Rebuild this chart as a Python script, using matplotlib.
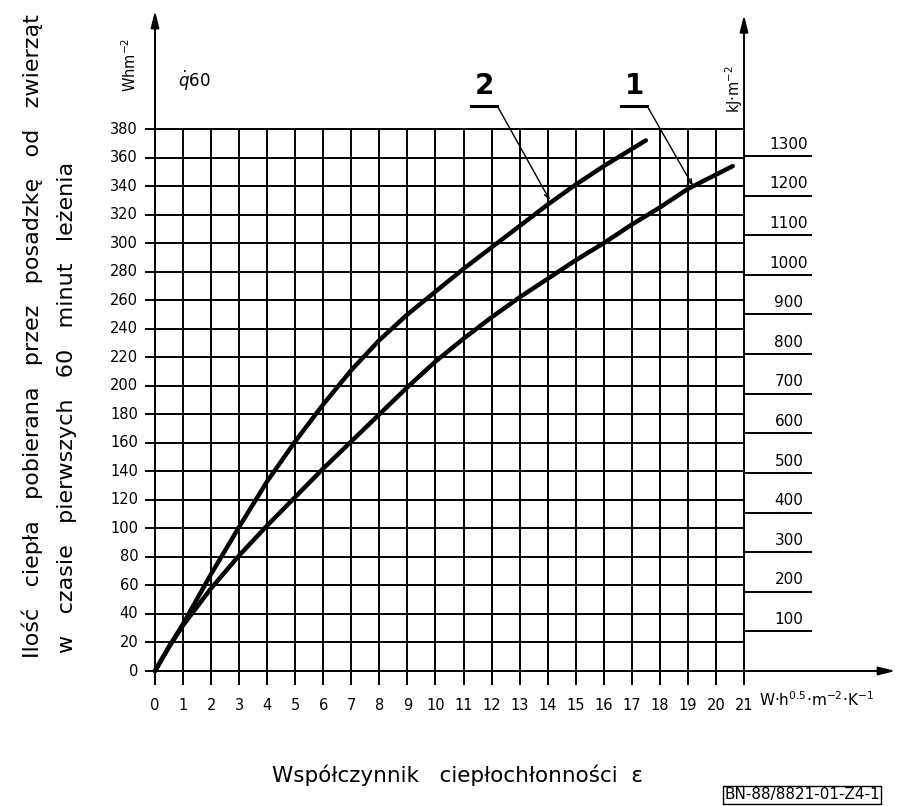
import numpy as np
import matplotlib
matplotlib.use("Agg")
import matplotlib.pyplot as plt

# curve 1 and curve 2 (x = epsilon, y = q60 in Wh/m2)
x1 = [0, 0.5, 1, 2, 3, 4, 5, 6, 7, 8, 9, 10, 11, 12, 13, 14, 15, 16, 17, 18, 19, 20, 20.6]
y1 = [0, 17, 32, 58, 81, 102, 122, 142, 161, 180, 199, 217, 233, 248, 262, 275, 288, 300, 313, 325, 338, 348, 354]
x2 = [0, 0.5, 1, 2, 3, 4, 5, 6, 7, 8, 9, 10, 11, 12, 13, 14, 15, 16, 17, 17.5]
y2 = [0, 17, 33, 68, 101, 133, 161, 187, 211, 232, 250, 266, 282, 297, 312, 327, 341, 354, 366, 372]

x_ticks = list(range(0, 22))
y_ticks = list(range(0, 381, 20))
kj_ticks = [100, 200, 300, 400, 500, 600, 700, 800, 900, 1000, 1100, 1200, 1300]

plt.rcParams['font.family'] = 'DejaVu Sans'
fig = plt.figure(figsize=(9.01, 8.06), dpi=100)
ax = fig.add_axes([155/901, 1 - 671/806, 589/901, 542/806])
ax.set_xlim(0, 21)
ax.set_ylim(0, 380)
ax.axis('off')

lw = 1.4
# grid
ax.vlines(x_ticks, -10, 380, color='black', lw=lw, clip_on=False)
ax.hlines(y_ticks, -0.36, 21, color='black', lw=lw, clip_on=False)

# axes with arrows
arr = dict(arrowstyle='-|>,head_width=0.25,head_length=1.0', color='black', lw=lw, shrinkA=0, shrinkB=0)
ax.annotate('', xy=(0, 463), xytext=(0, 380), arrowprops=arr, annotation_clip=False)
ax.annotate('', xy=(21, 460), xytext=(21, 380), arrowprops=arr, annotation_clip=False)
ax.annotate('', xy=(26.4, 0), xytext=(21, 0), arrowprops=arr, annotation_clip=False)

# right kJ scale (1 Wh = 3.6 kJ)
for k in kj_ticks:
    yy = k / 3.6
    ax.plot([21, 23.4], [yy, yy], color='black', lw=lw, clip_on=False)
    ax.text(22.6, yy + 3, str(k), ha='center', va='bottom', fontsize=11)

# tick labels
for t in x_ticks:
    ax.text(t, -24, str(t), ha='center', va='center', fontsize=10.5)
for t in y_ticks:
    ax.text(-0.6, t, str(t), ha='right', va='center', fontsize=10.5)

# curves
ax.plot(x1, y1, color='black', lw=3.2, solid_capstyle='round', solid_joinstyle='round', clip_on=False)
ax.plot(x2, y2, color='black', lw=3.2, solid_capstyle='round', solid_joinstyle='round', clip_on=False)

# curve labels with leaders
for lab, lx, tip in [('2', 11.76, (14.08, 330)), ('1', 17.1, (19.18, 340))]:
    ax.text(lx, 400, lab, ha='center', va='bottom', fontsize=20, fontweight='bold')
    ax.plot([lx - 0.5, lx + 0.45], [396, 396], color='black', lw=2.2, clip_on=False)
    ax.annotate('', xy=tip, xytext=(lx + 0.45, 396),
                arrowprops=dict(arrowstyle='->,head_width=0.15,head_length=0.4', color='black', lw=1.0,
                                shrinkA=0, shrinkB=0), annotation_clip=False)

# axis unit labels
ax.text(-0.9, 425, 'Whm$^{-2}$', rotation=90, ha='center', va='center', fontsize=10.5)
ax.text(1.4, 414, r'$\dot{q}$60', ha='center', va='center', fontsize=12)
ax.text(20.65, 408, 'kJ·m$^{-2}$', rotation=90, ha='center', va='center', fontsize=10.5)
ax.text(21.55, -20, 'W·h$^{0.5}$·m$^{-2}$·K$^{-1}$', ha='left', va='center', fontsize=11)

fig.text(32/901, 1 - 336/806, 'Ilość   ciepła   pobierana   przez   posadzkę   od   zwierząt',
         rotation=90, ha='center', va='center', fontsize=16)
fig.text(67/901, 1 - 407/806, 'w   czasie   pierwszych   60   minut   leżenia',
         rotation=90, ha='center', va='center', fontsize=16)
fig.text(457/901, 1 - 775/806, 'Współczynnik   ciepłochłonności  ε', ha='center', va='center', fontsize=15.5)
fig.text(802/901, 1 - 795/806, 'BN-88/8821-01-Z4-1', ha='center', va='center', fontsize=11,
         bbox=dict(boxstyle='square,pad=0.1', fc='white', ec='black', lw=1.0))

fig.savefig('out.png', dpi=100)
